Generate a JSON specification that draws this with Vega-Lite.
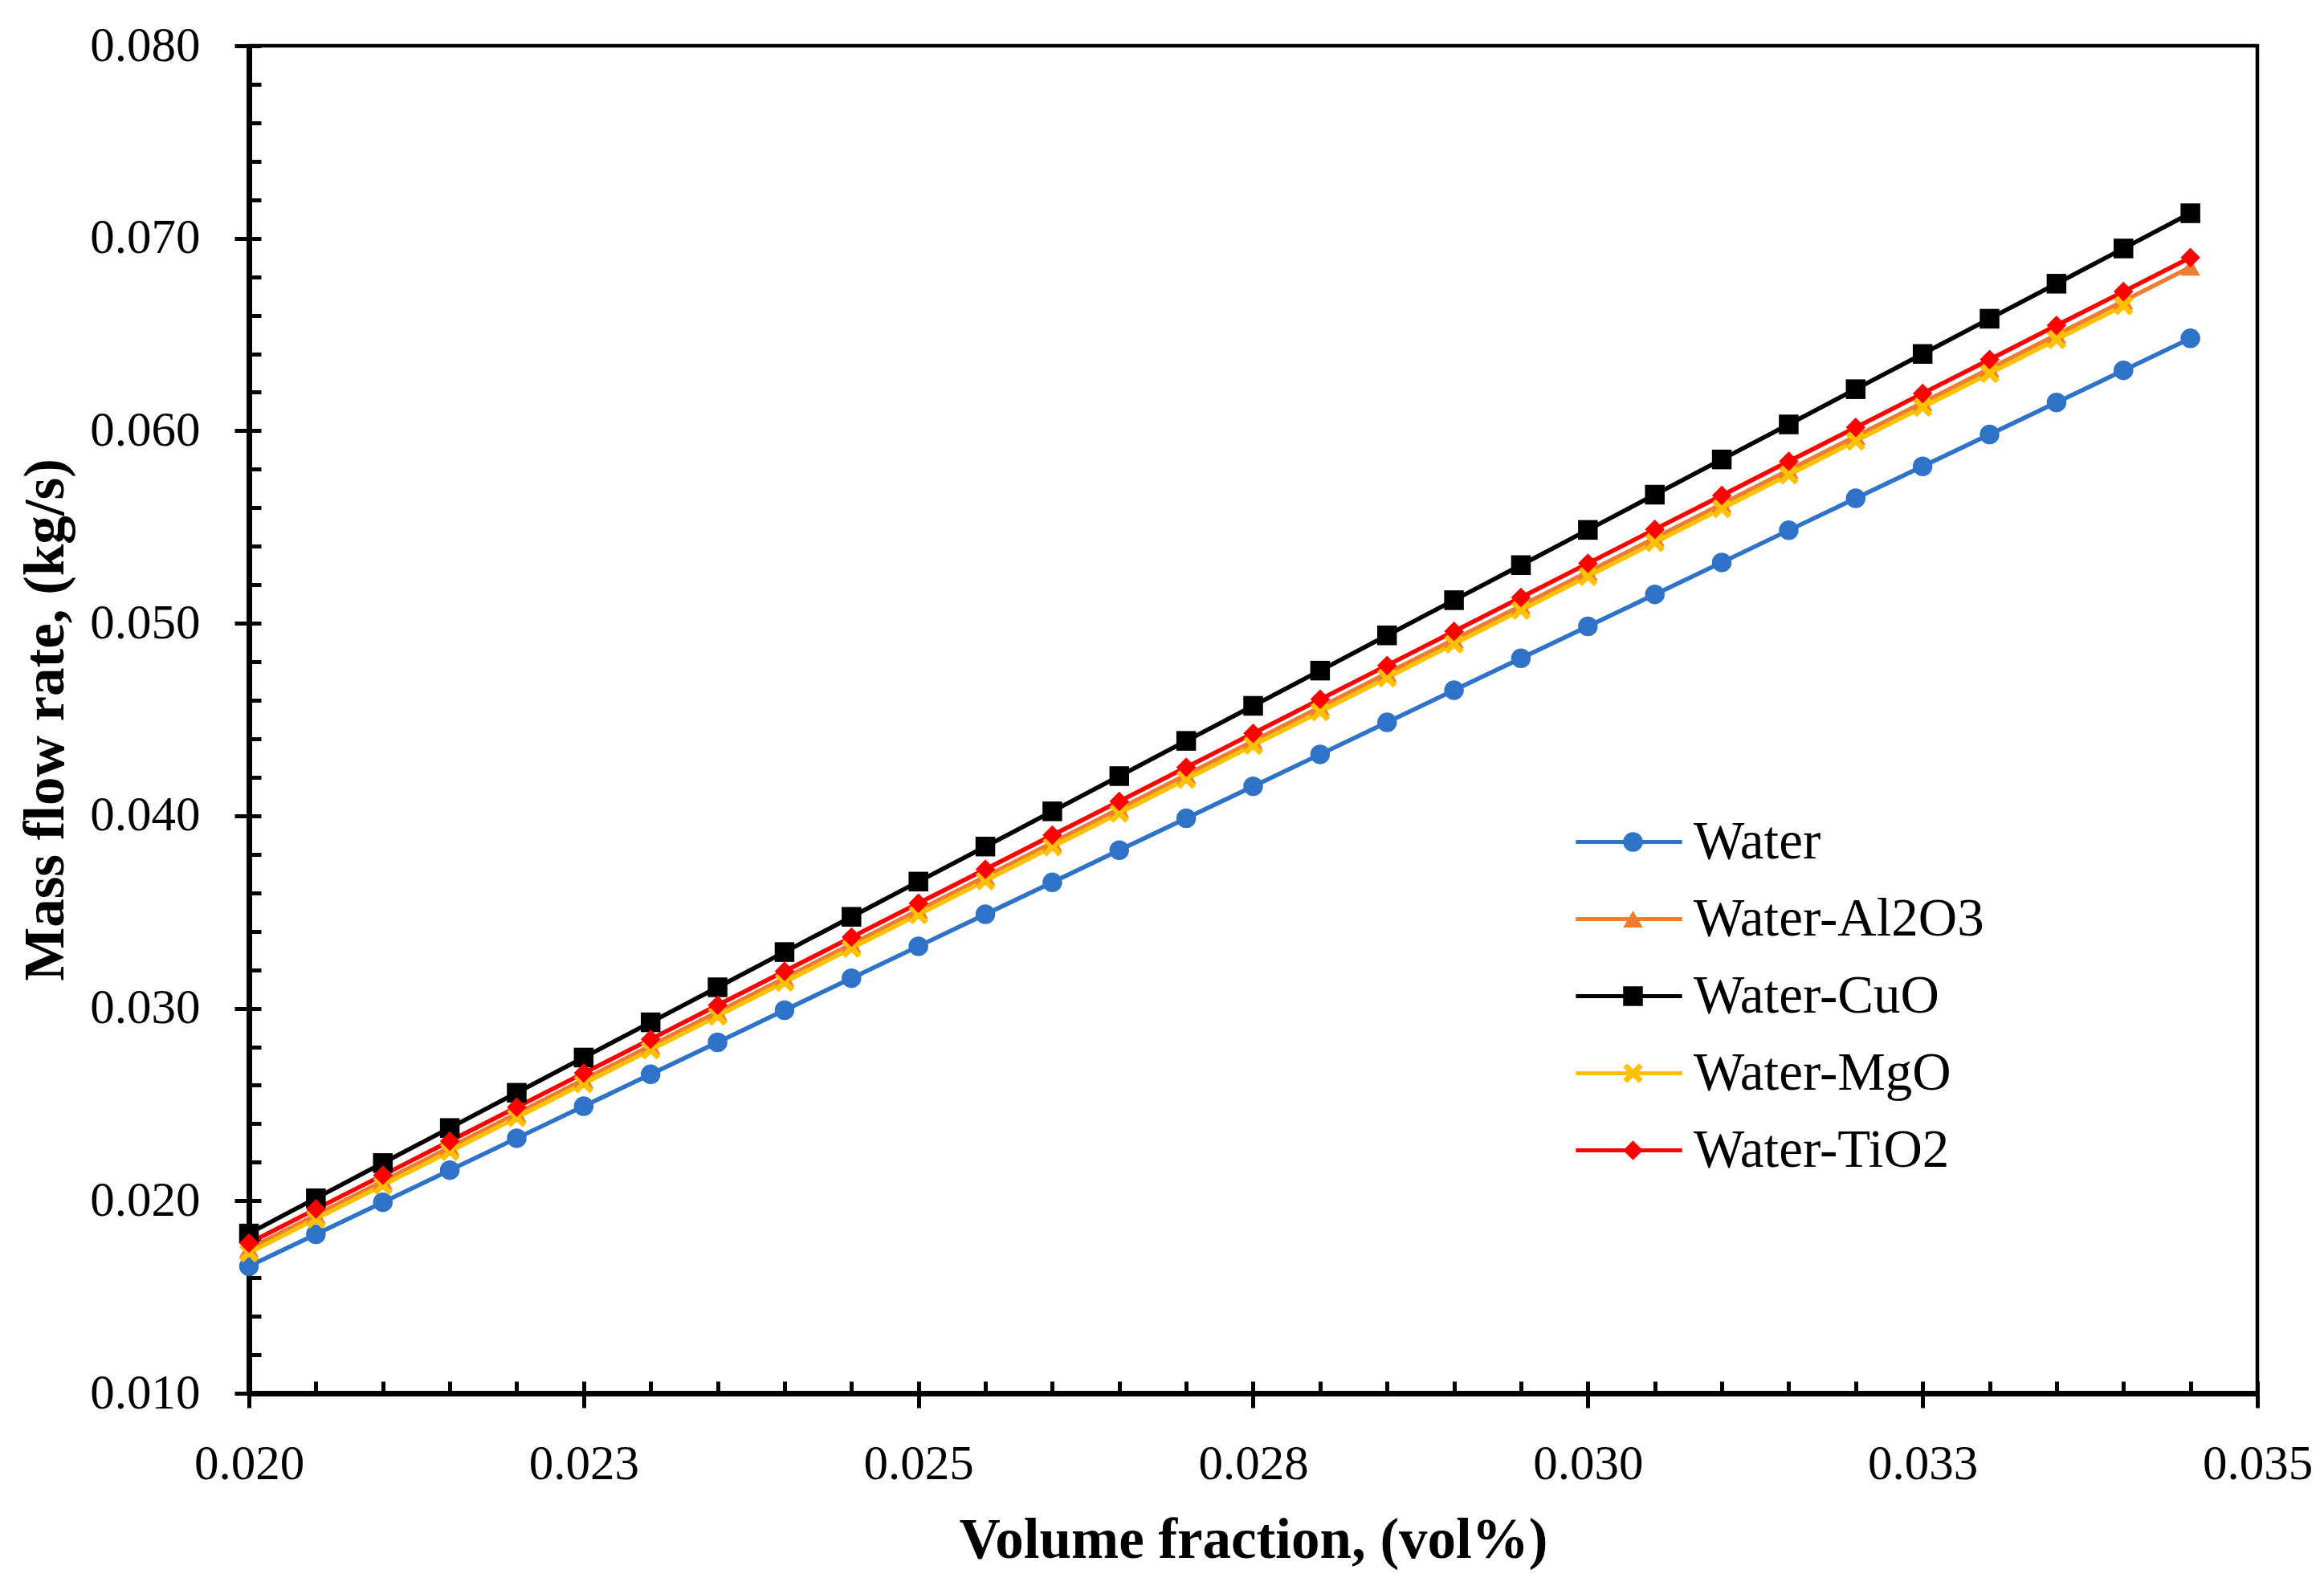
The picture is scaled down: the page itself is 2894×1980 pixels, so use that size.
{
  "$schema": "https://vega.github.io/schema/vega-lite/v6.json",
  "width": 2501,
  "height": 1678,
  "autosize": {"type": "none"},
  "padding": {"left": 310, "top": 57, "right": 83, "bottom": 245},
  "background": "white",
  "config": {
    "view": {"stroke": "black", "strokeWidth": 4.5},
    "axis": {"grid": false}
  },
  "data": {
    "values": [
      {"x": 0.02, "y": 0.0166, "s": "Water"},
      {"x": 0.0205, "y": 0.01826, "s": "Water"},
      {"x": 0.021, "y": 0.01992, "s": "Water"},
      {"x": 0.0215, "y": 0.02159, "s": "Water"},
      {"x": 0.022, "y": 0.02325, "s": "Water"},
      {"x": 0.0225, "y": 0.02491, "s": "Water"},
      {"x": 0.023, "y": 0.02657, "s": "Water"},
      {"x": 0.0235, "y": 0.02823, "s": "Water"},
      {"x": 0.024, "y": 0.0299, "s": "Water"},
      {"x": 0.0245, "y": 0.03156, "s": "Water"},
      {"x": 0.025, "y": 0.03322, "s": "Water"},
      {"x": 0.0255, "y": 0.03488, "s": "Water"},
      {"x": 0.026, "y": 0.03654, "s": "Water"},
      {"x": 0.0265, "y": 0.03821, "s": "Water"},
      {"x": 0.027, "y": 0.03987, "s": "Water"},
      {"x": 0.0275, "y": 0.04153, "s": "Water"},
      {"x": 0.028, "y": 0.04319, "s": "Water"},
      {"x": 0.0285, "y": 0.04485, "s": "Water"},
      {"x": 0.029, "y": 0.04652, "s": "Water"},
      {"x": 0.0295, "y": 0.04818, "s": "Water"},
      {"x": 0.03, "y": 0.04984, "s": "Water"},
      {"x": 0.0305, "y": 0.0515, "s": "Water"},
      {"x": 0.031, "y": 0.05316, "s": "Water"},
      {"x": 0.0315, "y": 0.05483, "s": "Water"},
      {"x": 0.032, "y": 0.05649, "s": "Water"},
      {"x": 0.0325, "y": 0.05815, "s": "Water"},
      {"x": 0.033, "y": 0.05981, "s": "Water"},
      {"x": 0.0335, "y": 0.06147, "s": "Water"},
      {"x": 0.034, "y": 0.06314, "s": "Water"},
      {"x": 0.0345, "y": 0.0648, "s": "Water"},
      {"x": 0.02, "y": 0.0175, "s": "Water-Al2O3"},
      {"x": 0.0205, "y": 0.01926, "s": "Water-Al2O3"},
      {"x": 0.021, "y": 0.02102, "s": "Water-Al2O3"},
      {"x": 0.0215, "y": 0.02278, "s": "Water-Al2O3"},
      {"x": 0.022, "y": 0.02453, "s": "Water-Al2O3"},
      {"x": 0.0225, "y": 0.02629, "s": "Water-Al2O3"},
      {"x": 0.023, "y": 0.02805, "s": "Water-Al2O3"},
      {"x": 0.0235, "y": 0.02981, "s": "Water-Al2O3"},
      {"x": 0.024, "y": 0.03157, "s": "Water-Al2O3"},
      {"x": 0.0245, "y": 0.03333, "s": "Water-Al2O3"},
      {"x": 0.025, "y": 0.03509, "s": "Water-Al2O3"},
      {"x": 0.0255, "y": 0.03684, "s": "Water-Al2O3"},
      {"x": 0.026, "y": 0.0386, "s": "Water-Al2O3"},
      {"x": 0.0265, "y": 0.04036, "s": "Water-Al2O3"},
      {"x": 0.027, "y": 0.04212, "s": "Water-Al2O3"},
      {"x": 0.0275, "y": 0.04388, "s": "Water-Al2O3"},
      {"x": 0.028, "y": 0.04564, "s": "Water-Al2O3"},
      {"x": 0.0285, "y": 0.0474, "s": "Water-Al2O3"},
      {"x": 0.029, "y": 0.04915, "s": "Water-Al2O3"},
      {"x": 0.0295, "y": 0.05091, "s": "Water-Al2O3"},
      {"x": 0.03, "y": 0.05267, "s": "Water-Al2O3"},
      {"x": 0.0305, "y": 0.05443, "s": "Water-Al2O3"},
      {"x": 0.031, "y": 0.05619, "s": "Water-Al2O3"},
      {"x": 0.0315, "y": 0.05795, "s": "Water-Al2O3"},
      {"x": 0.032, "y": 0.05971, "s": "Water-Al2O3"},
      {"x": 0.0325, "y": 0.06146, "s": "Water-Al2O3"},
      {"x": 0.033, "y": 0.06322, "s": "Water-Al2O3"},
      {"x": 0.0335, "y": 0.06498, "s": "Water-Al2O3"},
      {"x": 0.034, "y": 0.06674, "s": "Water-Al2O3"},
      {"x": 0.0345, "y": 0.0685, "s": "Water-Al2O3"},
      {"x": 0.02, "y": 0.0183, "s": "Water-CuO"},
      {"x": 0.0205, "y": 0.02013, "s": "Water-CuO"},
      {"x": 0.021, "y": 0.02196, "s": "Water-CuO"},
      {"x": 0.0215, "y": 0.02378, "s": "Water-CuO"},
      {"x": 0.022, "y": 0.02561, "s": "Water-CuO"},
      {"x": 0.0225, "y": 0.02744, "s": "Water-CuO"},
      {"x": 0.023, "y": 0.02927, "s": "Water-CuO"},
      {"x": 0.0235, "y": 0.03109, "s": "Water-CuO"},
      {"x": 0.024, "y": 0.03292, "s": "Water-CuO"},
      {"x": 0.0245, "y": 0.03475, "s": "Water-CuO"},
      {"x": 0.025, "y": 0.03658, "s": "Water-CuO"},
      {"x": 0.0255, "y": 0.0384, "s": "Water-CuO"},
      {"x": 0.026, "y": 0.04023, "s": "Water-CuO"},
      {"x": 0.0265, "y": 0.04206, "s": "Water-CuO"},
      {"x": 0.027, "y": 0.04389, "s": "Water-CuO"},
      {"x": 0.0275, "y": 0.04571, "s": "Water-CuO"},
      {"x": 0.028, "y": 0.04754, "s": "Water-CuO"},
      {"x": 0.0285, "y": 0.04937, "s": "Water-CuO"},
      {"x": 0.029, "y": 0.0512, "s": "Water-CuO"},
      {"x": 0.0295, "y": 0.05302, "s": "Water-CuO"},
      {"x": 0.03, "y": 0.05485, "s": "Water-CuO"},
      {"x": 0.0305, "y": 0.05668, "s": "Water-CuO"},
      {"x": 0.031, "y": 0.05851, "s": "Water-CuO"},
      {"x": 0.0315, "y": 0.06033, "s": "Water-CuO"},
      {"x": 0.032, "y": 0.06216, "s": "Water-CuO"},
      {"x": 0.0325, "y": 0.06399, "s": "Water-CuO"},
      {"x": 0.033, "y": 0.06582, "s": "Water-CuO"},
      {"x": 0.0335, "y": 0.06764, "s": "Water-CuO"},
      {"x": 0.034, "y": 0.06947, "s": "Water-CuO"},
      {"x": 0.0345, "y": 0.0713, "s": "Water-CuO"},
      {"x": 0.02, "y": 0.0173, "s": "Water-MgO"},
      {"x": 0.0205, "y": 0.01906, "s": "Water-MgO"},
      {"x": 0.021, "y": 0.02081, "s": "Water-MgO"},
      {"x": 0.0215, "y": 0.02257, "s": "Water-MgO"},
      {"x": 0.022, "y": 0.02433, "s": "Water-MgO"},
      {"x": 0.0225, "y": 0.02609, "s": "Water-MgO"},
      {"x": 0.023, "y": 0.02784, "s": "Water-MgO"},
      {"x": 0.0235, "y": 0.0296, "s": "Water-MgO"},
      {"x": 0.024, "y": 0.03136, "s": "Water-MgO"},
      {"x": 0.0245, "y": 0.03312, "s": "Water-MgO"},
      {"x": 0.025, "y": 0.03487, "s": "Water-MgO"},
      {"x": 0.0255, "y": 0.03663, "s": "Water-MgO"},
      {"x": 0.026, "y": 0.03839, "s": "Water-MgO"},
      {"x": 0.0265, "y": 0.04014, "s": "Water-MgO"},
      {"x": 0.027, "y": 0.0419, "s": "Water-MgO"},
      {"x": 0.0275, "y": 0.04366, "s": "Water-MgO"},
      {"x": 0.028, "y": 0.04541, "s": "Water-MgO"},
      {"x": 0.0285, "y": 0.04717, "s": "Water-MgO"},
      {"x": 0.029, "y": 0.04893, "s": "Water-MgO"},
      {"x": 0.0295, "y": 0.05068, "s": "Water-MgO"},
      {"x": 0.03, "y": 0.05244, "s": "Water-MgO"},
      {"x": 0.0305, "y": 0.0542, "s": "Water-MgO"},
      {"x": 0.031, "y": 0.05596, "s": "Water-MgO"},
      {"x": 0.0315, "y": 0.05771, "s": "Water-MgO"},
      {"x": 0.032, "y": 0.05947, "s": "Water-MgO"},
      {"x": 0.0325, "y": 0.06123, "s": "Water-MgO"},
      {"x": 0.033, "y": 0.06298, "s": "Water-MgO"},
      {"x": 0.0335, "y": 0.06474, "s": "Water-MgO"},
      {"x": 0.034, "y": 0.0665, "s": "Water-MgO"},
      {"x": 0.02, "y": 0.0178, "s": "Water-TiO2"},
      {"x": 0.0205, "y": 0.01957, "s": "Water-TiO2"},
      {"x": 0.021, "y": 0.02133, "s": "Water-TiO2"},
      {"x": 0.0215, "y": 0.0231, "s": "Water-TiO2"},
      {"x": 0.022, "y": 0.02486, "s": "Water-TiO2"},
      {"x": 0.0225, "y": 0.02663, "s": "Water-TiO2"},
      {"x": 0.023, "y": 0.02839, "s": "Water-TiO2"},
      {"x": 0.0235, "y": 0.03016, "s": "Water-TiO2"},
      {"x": 0.024, "y": 0.03192, "s": "Water-TiO2"},
      {"x": 0.0245, "y": 0.03369, "s": "Water-TiO2"},
      {"x": 0.025, "y": 0.03546, "s": "Water-TiO2"},
      {"x": 0.0255, "y": 0.03722, "s": "Water-TiO2"},
      {"x": 0.026, "y": 0.03899, "s": "Water-TiO2"},
      {"x": 0.0265, "y": 0.04075, "s": "Water-TiO2"},
      {"x": 0.027, "y": 0.04252, "s": "Water-TiO2"},
      {"x": 0.0275, "y": 0.04428, "s": "Water-TiO2"},
      {"x": 0.028, "y": 0.04605, "s": "Water-TiO2"},
      {"x": 0.0285, "y": 0.04781, "s": "Water-TiO2"},
      {"x": 0.029, "y": 0.04958, "s": "Water-TiO2"},
      {"x": 0.0295, "y": 0.05134, "s": "Water-TiO2"},
      {"x": 0.03, "y": 0.05311, "s": "Water-TiO2"},
      {"x": 0.0305, "y": 0.05488, "s": "Water-TiO2"},
      {"x": 0.031, "y": 0.05664, "s": "Water-TiO2"},
      {"x": 0.0315, "y": 0.05841, "s": "Water-TiO2"},
      {"x": 0.032, "y": 0.06017, "s": "Water-TiO2"},
      {"x": 0.0325, "y": 0.06194, "s": "Water-TiO2"},
      {"x": 0.033, "y": 0.0637, "s": "Water-TiO2"},
      {"x": 0.0335, "y": 0.06547, "s": "Water-TiO2"},
      {"x": 0.034, "y": 0.06723, "s": "Water-TiO2"},
      {"x": 0.0345, "y": 0.069, "s": "Water-TiO2"}
    ]
  },
  "layer": [
    {
      "mark": {"type": "line", "strokeWidth": 5.5},
      "encoding": {
        "x": {
          "field": "x", "type": "quantitative",
          "scale": {"domain": [0.02, 0.035], "nice": false, "zero": false},
          "axis": {
            "orient": "bottom",
            "values": [0.02, 0.0225, 0.025, 0.0275, 0.03, 0.0325, 0.035],
            "labelExpr": "format(datum.value + 0.000001, '.3f')",
            "tickSize": 18, "tickWidth": 5, "tickColor": "black",
            "domainWidth": 7, "domainColor": "black",
            "labelFont": "Liberation Serif", "labelFontSize": 61, "labelColor": "black",
            "labelPadding": 40, "labelFlush": false, "labelOverlap": false, "labelBound": false,
            "title": "Volume fraction, (vol%)",
            "titleFont": "Liberation Serif", "titleFontSize": 71, "titleFontWeight": "bold",
            "titleColor": "black", "titlePadding": 30
          }
        },
        "y": {
          "field": "y", "type": "quantitative",
          "scale": {"domain": [0.01, 0.08], "nice": false, "zero": false},
          "axis": {
            "orient": "left",
            "values": [0.01, 0.02, 0.03, 0.04, 0.05, 0.06, 0.07, 0.08],
            "labelExpr": "format(datum.value + 0.000001, '.3f')",
            "tickSize": 18, "tickWidth": 5, "tickColor": "black",
            "domainWidth": 7, "domainColor": "black",
            "labelFont": "Liberation Serif", "labelFontSize": 61, "labelColor": "black",
            "labelPadding": 43, "labelFlush": false, "labelOverlap": false, "labelBound": false,
            "title": "Mass flow rate, (kg/s)",
            "titleFont": "Liberation Serif", "titleFontSize": 71, "titleFontWeight": "bold",
            "titleColor": "black", "titlePadding": 18
          }
        },
        "stroke": {
          "field": "s", "type": "nominal",
          "scale": {
            "domain": ["Water", "Water-Al2O3", "Water-CuO", "Water-MgO", "Water-TiO2"],
            "range": ["#2E73C8", "#ED7D31", "#000000", "#FFC000", "#FF0000"]
          },
          "legend": {
            "orient": "none", "legendX": 1685, "legendY": 958, "title": null,
            "symbolType": "M-5,0H5", "symbolSize": 700, "symbolStrokeWidth": 5,
            "labelFont": "Liberation Serif", "labelFontSize": 67, "labelColor": "black",
            "labelOffset": 47, "rowPadding": 28, "padding": 0, "labelLimit": 0
          }
        }
      }
    },
    {
      "mark": {"type": "point", "filled": true, "size": 600, "opacity": 1},
      "encoding": {
        "x": {
          "field": "x", "type": "quantitative",
          "axis": {
            "orient": "bottom",
            "values": [0.02, 0.0205, 0.021, 0.0215, 0.022, 0.0225, 0.023, 0.0235, 0.024, 0.0245, 0.025, 0.0255, 0.026, 0.0265, 0.027, 0.0275, 0.028, 0.0285, 0.029, 0.0295, 0.03, 0.0305, 0.031, 0.0315, 0.032, 0.0325, 0.033, 0.0335, 0.034, 0.0345, 0.035],
            "tickSize": -15, "tickWidth": 5, "tickColor": "black",
            "domain": false, "labels": false, "title": null
          }
        },
        "y": {
          "field": "y", "type": "quantitative",
          "axis": {
            "orient": "left",
            "values": [0.01, 0.012, 0.014, 0.016, 0.018, 0.02, 0.022, 0.024, 0.026, 0.028, 0.03, 0.032, 0.034, 0.036, 0.038, 0.04, 0.042, 0.044, 0.046, 0.048, 0.05, 0.052, 0.054, 0.056, 0.058, 0.06, 0.062, 0.064, 0.066, 0.068, 0.07, 0.072, 0.074, 0.076, 0.078, 0.08],
            "tickSize": -15, "tickWidth": 5, "tickColor": "black",
            "domain": false, "labels": false, "title": null
          }
        },
        "color": {
          "field": "s", "type": "nominal",
          "scale": {
            "range": ["#2E73C8", "#ED7D31", "#000000", "#FFC000", "#FF0000"]
          },
          "legend": {
            "orient": "none", "legendX": 1690, "legendY": 958, "title": null,
            "symbolSize": 600, "symbolStrokeWidth": 0,
            "labelExpr": "' '",
            "labelFont": "Liberation Serif", "labelFontSize": 67, "labelOpacity": 0,
            "labelOffset": 0, "rowPadding": 28, "padding": 0, "labelLimit": 0
          }
        },
        "shape": {
          "field": "s", "type": "nominal",
          "scale": {
            "range": ["circle", "triangle-up", "square", "M-1,-0.6L-0.6,-1L0,-0.4L0.6,-1L1,-0.6L0.4,0L1,0.6L0.6,1L0,0.4L-0.6,1L-1,0.6L-0.4,0Z", "diamond"]
          },
          "legend": {
            "orient": "none", "legendX": 1690, "legendY": 958, "title": null,
            "symbolSize": 600, "symbolStrokeWidth": 0,
            "labelExpr": "' '",
            "labelFont": "Liberation Serif", "labelFontSize": 67, "labelOpacity": 0,
            "labelOffset": 0, "rowPadding": 28, "padding": 0, "labelLimit": 0
          }
        }
      }
    }
  ],
  "resolve": {"axis": {"x": "independent", "y": "independent"}}
}
